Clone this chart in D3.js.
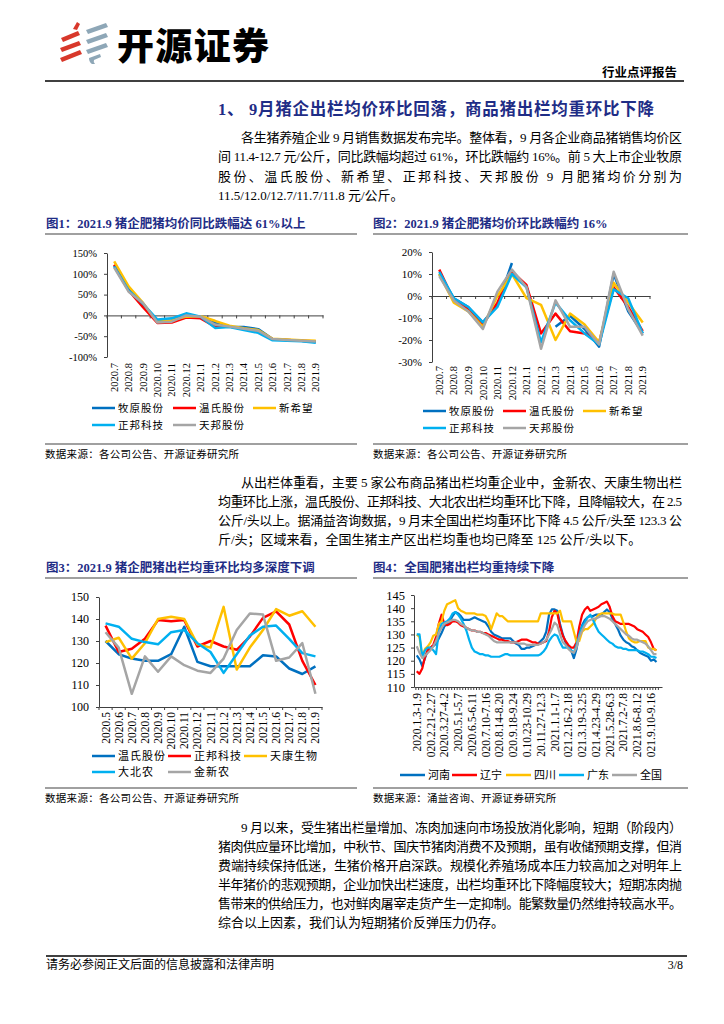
<!DOCTYPE html>
<html><head><meta charset="utf-8">
<script src="https://cdn.jsdelivr.net/npm/d3@7"></script>
<style>body{margin:0;background:#fff}svg{display:block}</style>
</head><body>
<svg id="page" width="724" height="1024"></svg>
<script>
// ---------------- DATA ----------------
const months1 = ["2020.7","2020.8","2020.9","2020.10","2020.11","2020.12","2021.1","2021.2","2021.3","2021.4","2021.5","2021.6","2021.7","2021.8","2021.9"];
const companies1 = ["牧原股份","温氏股份","新希望","正邦科技","天邦股份"];
// Fig1: YoY %
const muyuanYoY     = [120, 62, 25, -15, -12, 0, -3, -18, -27, -28, -33, -57, -59, -61, -64];
const wensYoY       = [122, 60, 20, -18, -17, -5, -7, -27, -27, -33, -38, -57, -59, -61, -63];
const xinxiwangYoY  = [130, 70, 30, -15, -12, -3, -2, -13, -25, -31, -35, -56, -58, -60, -61];
const zhengbangYoY  = [118, 60, 28, -10, -7, 5, -3, -30, -28, -35, -42, -60, -61, -62, -66];
const tianbangYoY   = [115, 57, 30, -17, -15, 0, -3, -22, -27, -32, -37, -57, -59, -61, -63];
const yTicks1 = [-100, -50, 0, 50, 100, 150];
// Fig2: MoM %
const muyuanMoM     = [10, -1, -5, -12, -4, 15, null, null, -14, -9, -15, -23, 10, -7, -17];
const wensMoM       = [12, -2, -6, -13, -3, 11, 5, -17, -8, -16, -17, -21, 4, -5, -16];
const xinxiwangMoM  = [10, -3, -7, -14, 0, 10, -1, -4, -20, -8, -13, -21, 6, -3, -12];
const zhengbangMoM  = [11, -1, -5, -12, -5, 10, 4, -21, -3, -11, -17, -22, 3, -1, -17];
const tianbangMoM   = [9, -2, -7, -15, 2, 12, 4, -24, -2, -14, -14, -22, 11, -6, -18];
const yTicks2 = [-30, -20, -10, 0, 10, 20];
// Fig3: slaughter weight kg/head
const months3 = ["2020.5","2020.6","2020.7","2020.8","2020.9","2020.10","2020.11","2020.12","2021.1","2021.2","2021.3","2021.4","2021.5","2021.6","2021.7","2021.8","2021.9"];
const companies3 = ["温氏股份","正邦科技","天康生物","大北农","金新农"];
const wensWeight       = [130, 124, 122, 121, 121, 124, 136.5, 120.5, 118.5, 118.5, 118.5, 118.5, 123.5, 123, 117.5, 115, 118.5];
const zhengbangWeight  = [137, 125, 126.5, 131, 139.5, 139, 139.5, 127.5, 130, 127.5, 126, 132, 140.5, 143.5, 137.5, 121, 110];
const tiankangWeight   = [129.5, 131.5, 122, 129, 140, 141, 140, 128.5, 127, 145.5, 117, 127, 135, 144.5, 141.5, 143.5, 136.5];
const dabeinongWeight  = [138, 136.5, 131, 129.5, 128.5, 134, 135, 129, 125, 115.5, 124, 132.5, 136.5, 137, 131, 124.5, 123];
const jinxinnongWeight = [134, 127, 106, 123, 116, 123, 119, 116.5, 115.5, 122, 135, 142.5, 142, 121, 122.5, 129, 106];
const yTicks3 = [100, 110, 120, 130, 140, 150];
// Fig4: weekly national weights
const regions4 = ["河南","辽宁","四川","广东","全国"];
const weekLabels4 = ["2020.1.3-1.9","2020.2.21-2.27","2020.3.27-4.2","2020.5.1-5.7","2020.6.5-6.11","2020.7.10-7.16","2020.8.14-8.20","2020.9.18-9.24","2020.10.23-10.29","2020.11.27-12.3","2021.1.1-1.7","2021.2.16-2.18","2021.3.19-3.25","2021.4.23-4.29","2021.5.28-6.3","2021.7.2-7.8","2021.8.6-8.12","2021.9.10-9.16"];
const henanW = [122,120.5,118,121,124,125,125.5,126.5,128.5,130.5,133,134,135,137,138.5,138,137,135.5,135.5,135.5,136,136.5,136,135.5,135,134.5,133,131,130,129.5,129,128.5,128.5,128.5,128.5,127.5,126.5,126,124.5,124.5,125,125,125.5,126,126.5,127.5,128.5,131,137.5,139.5,139.5,139,134,130,127,125,124,121,124.5,130,133.5,135.5,136.5,137,137,137.5,137.5,137.5,138.5,139.5,138.5,136,134,132,129.5,128,127,126.5,125.5,125,124,123,122.5,122,121.5,120,120.5,119.5];
const liaoningW = [116,115,117,121.5,124,125,126,129,134,137.5,134,133.5,134,135,135,134.5,133.5,133,132.5,132,131.5,131.5,131,131,130.5,130.5,130,129.5,129,128.5,128,128,127.5,127.5,127,127,127,127.5,128,128,128,127.5,127,127,126.5,126.5,127,127.5,131,136.5,139,138,133,129.5,127.5,126,125,125,127,133,137.5,139.5,140.5,139,139.5,140,140.5,141.5,142,142.5,140.5,137,135,134.5,134,134,134,134,133.5,133,132,131.5,131,130,129,127,124.5,124];
const sichuanW = [130,129,121.5,124.5,125.5,127,129.5,130,134,135,139,141.5,142,142.5,143,140,139,138.5,138,138,138,138,137.5,137.5,137.5,137,135,132,135,138,137,137,136,135,135,135,135,135,135,135,135,135,135,135,135,138,138,138,138,138,138,138,139,135,135,135,135,131,127,127.5,131,132,132,133,134,136,137.5,138,138,138,138,138,137.5,137.5,137.5,134.5,131,128.5,127.5,127,127,127.5,127.5,127.5,125,124.5,124.5,124];
const guangdongW = [130,130,121.5,124,125,125,124,122.5,131,134,134.5,135,136,138,138.5,137.5,136,134,131.5,128,125,123.5,123,122.5,122.5,122,122,121.5,121.5,121.5,121.5,122,122.5,122.5,122,122,122,122,122,122,122,122,122,122,122,122.5,123.5,125,127.5,129,130,129.5,127,125,125,125,124,123,126,130,133,134.5,136.5,137.5,135.5,133,131,130,129,128,127,126.5,125.5,125,125,124.5,124.5,124,124,124,124,123.5,123.5,123,122.5,121.5,121.5,121];
const nationalW = [125.5,123,121,122,123,124,125.5,127.5,130.5,132.5,134,134.5,135,135.5,135.5,135,134,133.5,132.5,132,131.5,131.5,131,131,130.5,130,129.5,128.5,127.5,127,127,127,127,127,127,127,127,126.5,126.5,126.5,126,126,126,126,126,126.5,127,128,130,132,134.5,133.5,130,127,126,124.5,123.5,123,125,129,131.5,133.5,135,135.5,136,136,136.5,137,137,136.5,136,135,134,133,132,131,130,129.5,128.5,128,128,127.5,127,126.5,125.5,124,122.5,122.5];
const yTicks4 = [110, 115, 120, 125, 130, 135, 140, 145];

// ---------------- STYLE ----------------
const svg = d3.select("#page");
const SERIF = "'Liberation Serif','Noto Sans CJK SC',serif";
const NAVY = "#1F2D86";
const COL = {blue:"#0070C0", red:"#FF0000", yellow:"#FFC000", cyan:"#00B0F0", gray:"#A5A5A5"};

function txt(t, x, y, size, o = {}) {
  const e = svg.append("text").attr("x", x).attr("y", y).text(t)
    .style("font-family", o.family || SERIF).style("font-size", size + "px")
    .attr("fill", o.fill || "#000");
  if (o.bold) e.style("font-weight", o.bold === true ? "bold" : o.bold);
  if (o.anchor) e.attr("text-anchor", o.anchor);
  if (o.len) e.attr("textLength", o.len).attr("lengthAdjust", "spacing");
  if (o.ls) e.style("letter-spacing", o.ls + "px");
  return e;
}
function hline(x1, x2, y, w, c) {
  svg.append("line").attr("x1", x1).attr("x2", x2).attr("y1", y).attr("y2", y)
    .attr("stroke", c).attr("stroke-width", w);
}

// ---------------- HEADER ----------------
const logo = svg.append("g");
const red = "#D8382B", steel = "#8EA7B7";
[[[73,29],[77,22],[80,24],[77,30]],
 [[61,38],[78,31],[80,35],[63,42]],
 [[60,48],[79,41],[81,45],[62,52]],
 [[60,58],[80,50],[82,54],[62,62]]].forEach(p => logo.append("polygon").attr("points", p.join(" ")).attr("fill", red));
[[[86,30],[106,23],[108,27],[88,34]],
 [[86,40],[106,33],[108,37],[88,44]],
 [[86,50],[106,43],[108,47],[88,54]]].forEach(p => logo.append("polygon").attr("points", p.join(" ")).attr("fill", steel));
logo.append("path").attr("d", "M89,58 L100,54 L101,57 L94,60 Q93,62 95,64 L92,64 Q89,62 89,58 Z").attr("fill", steel);
txt("开源证券", 117, 60, 37, {family: "'Noto Sans CJK SC',sans-serif", bold: 900, len: 152});
txt("行业点评报告", 677, 77, 12.5, {bold: true, anchor: "end", family: "'Noto Sans CJK SC',sans-serif"});
hline(45, 684, 81, 2, "#404040");

txt("1、 9月猪企出栏均价环比回落，商品猪出栏均重环比下降", 218, 115, 16.5, {bold: true, fill: NAVY, len: 436});

function para(lines, y0, dy, justifyUpTo) {
  lines.forEach((l, i) => {
    const x = i === 0 ? 241 : 218;
    txt(l, x, y0 + i * dy, 13, i < justifyUpTo ? {len: 682 - x} : {});
  });
}
para(["各生猪养殖企业 9 月销售数据发布完毕。整体看，9 月各企业商品猪销售均价区",
      "间 11.4-12.7 元/公斤，同比跌幅均超过 61%，环比跌幅约 16%。前 5 大上市企业牧原",
      "股份、温氏股份、新希望、正邦科技、天邦股份 9 月肥猪均价分别为",
      "11.5/12.0/12.7/11.7/11.8 元/公斤。"], 141.5, 19.5, 3);

// figure titles
txt("图1：2021.9 猪企肥猪均价同比跌幅达 61%以上", 46, 228, 12.5, {bold: true, fill: NAVY});
txt("图2：2021.9 猪企肥猪均价环比跌幅约 16%", 373, 228, 12.5, {bold: true, fill: NAVY});
hline(45, 357, 234, 1.5, "#808080");
hline(373, 688, 234, 1.5, "#808080");

// ---------------- CHART HELPERS ----------------
function bandChart(o) {
  const g = svg.append("g");
  const x = d3.scaleBand().domain(o.cats).range([o.x0, o.x1]);
  const y = d3.scaleLinear().domain(o.yDomain).range([o.yBottom, o.yTop]);
  const ya = g.append("g").attr("transform", `translate(${o.x0},0)`)
    .call(d3.axisLeft(y).tickValues(o.yTicks).tickFormat(o.fmt).tickSize(3).tickSizeOuter(0).tickPadding(7));
  ya.selectAll(".domain,.tick line").attr("stroke", "#404040");
  ya.selectAll("text").style("font-family", SERIF).style("font-size", o.yFont + "px").attr("fill", "#000");
  const ay = y(o.axisVal);
  const xa = g.append("g").attr("transform", `translate(0,${ay})`)
    .call(d3.axisBottom(x).tickSize(0).tickSizeOuter(0).tickFormat(""));
  xa.select(".domain").attr("stroke", "#404040");
  g.selectAll("line.xt").data(o.cats.concat([null])).join("line")
    .attr("x1", d => d === null ? o.x1 : x(d)).attr("x2", d => d === null ? o.x1 : x(d))
    .attr("y1", ay).attr("y2", ay + 3).attr("stroke", "#404040");
  g.selectAll("text.xl").data(o.cats).join("text")
    .attr("transform", d => `translate(${x(d) + x.bandwidth() / 2},${o.labelTop}) rotate(-90)`)
    .attr("text-anchor", "end").attr("dy", "0.35em")
    .style("font-family", SERIF).style("font-size", o.xFont + "px").text(d => d);
  const line = d3.line().defined(v => v != null)
    .x((v, i) => x(o.cats[i]) + x.bandwidth() / 2).y(v => y(v));
  o.series.forEach(s => g.append("path").attr("d", line(s.values)).attr("fill", "none")
    .attr("stroke", s.color).attr("stroke-width", 2.5).attr("stroke-linejoin", "round"));
  legend(o.legend, o.series);
}
function legend(L, series) {
  series.forEach((s, i) => {
    const p = L.pos[i];
    svg.append("line").attr("x1", p[0]).attr("x2", p[0] + L.len).attr("y1", p[1]).attr("y2", p[1])
      .attr("stroke", s.color).attr("stroke-width", 2.5);
    txt(s.name, p[0] + L.len + 3, p[1] + L.font * 0.36, L.font, {ls: L.ls || 0});
  });
}

// ---------------- CHART 1 ----------------
bandChart({cats: months1, x0: 107, x1: 323, yTop: 253, yBottom: 357, yDomain: [-100, 150], yTicks: yTicks1,
  fmt: d => d + "%", axisVal: 0, labelTop: 363, yFont: 10.5, xFont: 10.5,
  series: [
    {name: companies1[0], color: COL.blue, values: muyuanYoY},
    {name: companies1[1], color: COL.red, values: wensYoY},
    {name: companies1[2], color: COL.yellow, values: xinxiwangYoY},
    {name: companies1[3], color: COL.cyan, values: zhengbangYoY},
    {name: companies1[4], color: COL.gray, values: tianbangYoY}],
  legend: {len: 23, font: 10.5, ls: 1, pos: [[92, 408], [173, 408], [253, 408], [92, 425], [173, 425]]}});

// ---------------- CHART 2 ----------------
bandChart({cats: months1, x0: 432, x1: 650, yTop: 252, yBottom: 362, yDomain: [-30, 20], yTicks: yTicks2,
  fmt: d => d + "%", axisVal: 0, labelTop: 366, yFont: 11, xFont: 10.5,
  series: [
    {name: companies1[0], color: COL.blue, values: muyuanMoM},
    {name: companies1[1], color: COL.red, values: wensMoM},
    {name: companies1[2], color: COL.yellow, values: xinxiwangMoM},
    {name: companies1[3], color: COL.cyan, values: zhengbangMoM},
    {name: companies1[4], color: COL.gray, values: tianbangMoM}],
  legend: {len: 23, font: 10.5, ls: 1, pos: [[423, 411], [503, 411], [583, 411], [423, 428], [503, 428]]}});

hline(45, 357, 444, 1.5, "#808080");
hline(373, 688, 444, 1.5, "#808080");
txt("数据来源：各公司公告、开源证券研究所", 45, 458, 10.5, {ls: 0.3});
txt("数据来源：各公司公告、开源证券研究所", 373, 458, 10.5, {ls: 0.3});

para(["从出栏体重看，主要 5 家公布商品猪出栏均重企业中，金新农、天康生物出栏",
      "均重环比上涨，温氏股份、正邦科技、大北农出栏均重环比下降，且降幅较大，在 2.5",
      "公斤/头以上。据涌益咨询数据，9 月末全国出栏均重环比下降 4.5 公斤/头至 123.3 公",
      "斤/头；区域来看，全国生猪主产区出栏均重也均已降至 125 公斤/头以下。"], 486.5, 19, 3);

txt("图3：2021.9 猪企肥猪出栏均重环比均多深度下调", 46, 572, 12.5, {bold: true, fill: NAVY});
txt("图4：全国肥猪出栏均重持续下降", 373, 572, 12.5, {bold: true, fill: NAVY});
hline(45, 357, 578, 1.5, "#808080");
hline(373, 688, 578, 1.5, "#808080");

// ---------------- CHART 3 ----------------
bandChart({cats: months3, x0: 99, x1: 322, yTop: 597, yBottom: 707, yDomain: [100, 150], yTicks: yTicks3,
  fmt: d => d, axisVal: 100, labelTop: 712, yFont: 12, xFont: 11.5,
  series: [
    {name: companies3[0], color: COL.blue, values: wensWeight},
    {name: companies3[1], color: COL.red, values: zhengbangWeight},
    {name: companies3[2], color: COL.yellow, values: tiankangWeight},
    {name: companies3[3], color: COL.cyan, values: dabeinongWeight},
    {name: companies3[4], color: COL.gray, values: jinxinnongWeight}],
  legend: {len: 23, font: 11, ls: 1, pos: [[92, 756], [168, 756], [244, 756], [92, 772], [168, 772]]}});

// ---------------- CHART 4 ----------------
(function () {
  const g = svg.append("g");
  const n = henanW.length;
  const x = d3.scaleLinear().domain([-1, n + 1]).range([414, 662]);
  const y = d3.scaleLinear().domain([110, 145]).range([687, 595]);
  const ya = g.append("g").attr("transform", "translate(414,0)")
    .call(d3.axisLeft(y).tickValues(yTicks4).tickSize(3).tickSizeOuter(0).tickPadding(6));
  ya.selectAll(".domain,.tick line").attr("stroke", "#404040");
  ya.selectAll("text").style("font-family", SERIF).style("font-size", "12.5px").attr("fill", "#000");
  const xa = g.append("g").attr("transform", "translate(0,687)")
    .call(d3.axisBottom(x).tickValues(d3.range(n + 1).map(i => i - 0.5)).tickSize(3).tickSizeOuter(0).tickFormat(""));
  xa.selectAll(".domain,.tick line").attr("stroke", "#404040");
  svg.append("clipPath").attr("id", "c4").append("rect").attr("x", 400).attr("y", 680).attr("width", 300).attr("height", 77);
  g.append("g").attr("clip-path", "url(#c4)").selectAll("text").data(weekLabels4).join("text")
    .attr("transform", (d, i) => `translate(${x(i * 5)},693) rotate(-90)`)
    .attr("text-anchor", "end").attr("dy", "0.35em")
    .style("font-family", SERIF).style("font-size", "11.5px").text(d => d);
  const line = d3.line().x((v, i) => x(i)).y(v => y(v));
  const series = [
    {name: regions4[0], color: COL.blue, values: henanW},
    {name: regions4[1], color: COL.red, values: liaoningW},
    {name: regions4[2], color: COL.yellow, values: sichuanW},
    {name: regions4[3], color: COL.cyan, values: guangdongW},
    {name: regions4[4], color: COL.gray, values: nationalW}];
  series.forEach(s => g.append("path").attr("d", line(s.values)).attr("fill", "none")
    .attr("stroke", s.color).attr("stroke-width", 2.2).attr("stroke-linejoin", "round"));
  legend({len: 25, font: 11, pos: [[400, 775], [452, 775], [506, 775], [559, 775], [612, 775]]}, series);
})();

hline(45, 357, 788, 1.5, "#808080");
hline(373, 688, 788, 1.5, "#808080");
txt("数据来源：各公司公告、开源证券研究所", 45, 802, 10.5, {ls: 0.3});
txt("数据来源：涌益咨询、开源证券研究所", 373, 802, 10.5, {ls: 0.3});

para(["9 月以来，受生猪出栏量增加、冻肉加速向市场投放消化影响，短期（阶段内）",
      "猪肉供应量环比增加，中秋节、国庆节猪肉消费不及预期，虽有收储预期支撑，但消",
      "费端持续保持低迷，生猪价格开启深跌。规模化养殖场成本压力较高加之对明年上",
      "半年猪价的悲观预期，企业加快出栏速度，出栏均重环比下降幅度较大；短期冻肉抛",
      "售带来的供给压力，也对鲜肉屠宰走货产生一定抑制。能繁数量仍然维持较高水平。",
      "综合以上因素，我们认为短期猪价反弹压力仍存。"], 831.5, 19, 5);

// ---------------- FOOTER ----------------
hline(46, 687, 956, 2, "#404040");
txt("请务必参阅正文后面的信息披露和法律声明", 46, 969, 12);
txt("3/8", 683, 969, 12, {anchor: "end"});
</script>
</body></html>
